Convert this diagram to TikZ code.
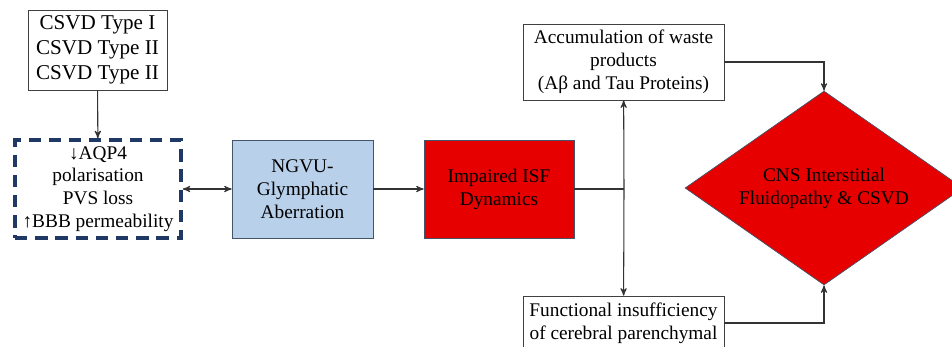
\documentclass[tikz,border=0pt]{standalone}
\usepackage{fontspec}
\setmainfont{Liberation Serif}
\usepackage{tikz}
\usetikzlibrary{arrows}
\usetikzlibrary{shapes.geometric}

\definecolor{navy}{HTML}{1F3864}
\definecolor{paleblue}{HTML}{B8D0EA}
\definecolor{boxred}{HTML}{E60000}
\definecolor{rim}{HTML}{44546A}

\begin{document}
\begin{tikzpicture}[x=0.02cm,y=-0.02cm,>=stealth',
	font=\fontsize{11}{13}\selectfont,
	plain/.style={draw=black!75,fill=white,align=center,inner sep=2pt},
	redbox/.style={draw=rim,fill=boxred,align=center,minimum width=3cm,minimum height=1.96cm},
	conn/.style={draw=black!80,line width=0.6pt}]
	\useasboundingbox (0,0) rectangle (952,346);

	\node[plain,minimum width=2.78cm,minimum height=1.6cm,font=\fontsize{12}{14.2}\selectfont] (types) at (97.5,50) {CSVD Type I\\CSVD Type II\\CSVD Type II};
	\node[draw=navy,line width=2pt,dash pattern=on 7pt off 4.5pt,align=center,
		minimum width=3.32cm,minimum height=1.96cm] (aqp) at (98,189) {↓AQP4\\polarisation\\PVS loss\\↑BBB permeability};
	\node[draw=rim,fill=paleblue,align=center,minimum width=2.82cm,minimum height=1.96cm] (ngvu) at (302.5,189) {NGVU-\\Glymphatic\\Aberration};
	\node[redbox] (isf) at (499,189) {Impaired ISF\\Dynamics};

	\node[plain,minimum width=4.02cm,minimum height=1.52cm] (waste) at (623.5,62) {Accumulation of waste\\products\\(Aβ and Tau Proteins)};
	\node[plain,minimum width=4.02cm,minimum height=1.08cm] (func) at (623.5,323) {Functional insufficiency\\of cerebral parenchymal};

	\node[diamond,draw=rim,fill=boxred,align=center,aspect=1.43,
		minimum width=5.56cm,minimum height=3.88cm,inner sep=0pt] (fluid) at (824,188) {CNS Interstitial\\Fluidopathy \& CSVD};

	\coordinate (split) at (624,189);

	\draw[conn,->] (types) -- (aqp);
	\draw[conn,<->] (aqp) -- (ngvu);
	\draw[conn,->] (ngvu) -- (isf);
	\draw[conn] (isf) -- (split);
	\draw[conn,->] (split) -- (waste);
	\draw[conn,->] (split) -- (func);
	\draw[conn,->] (waste.east) -| (fluid.north);
	\draw[conn,->] (func.east) -| (fluid.south);
\end{tikzpicture}
\end{document}
